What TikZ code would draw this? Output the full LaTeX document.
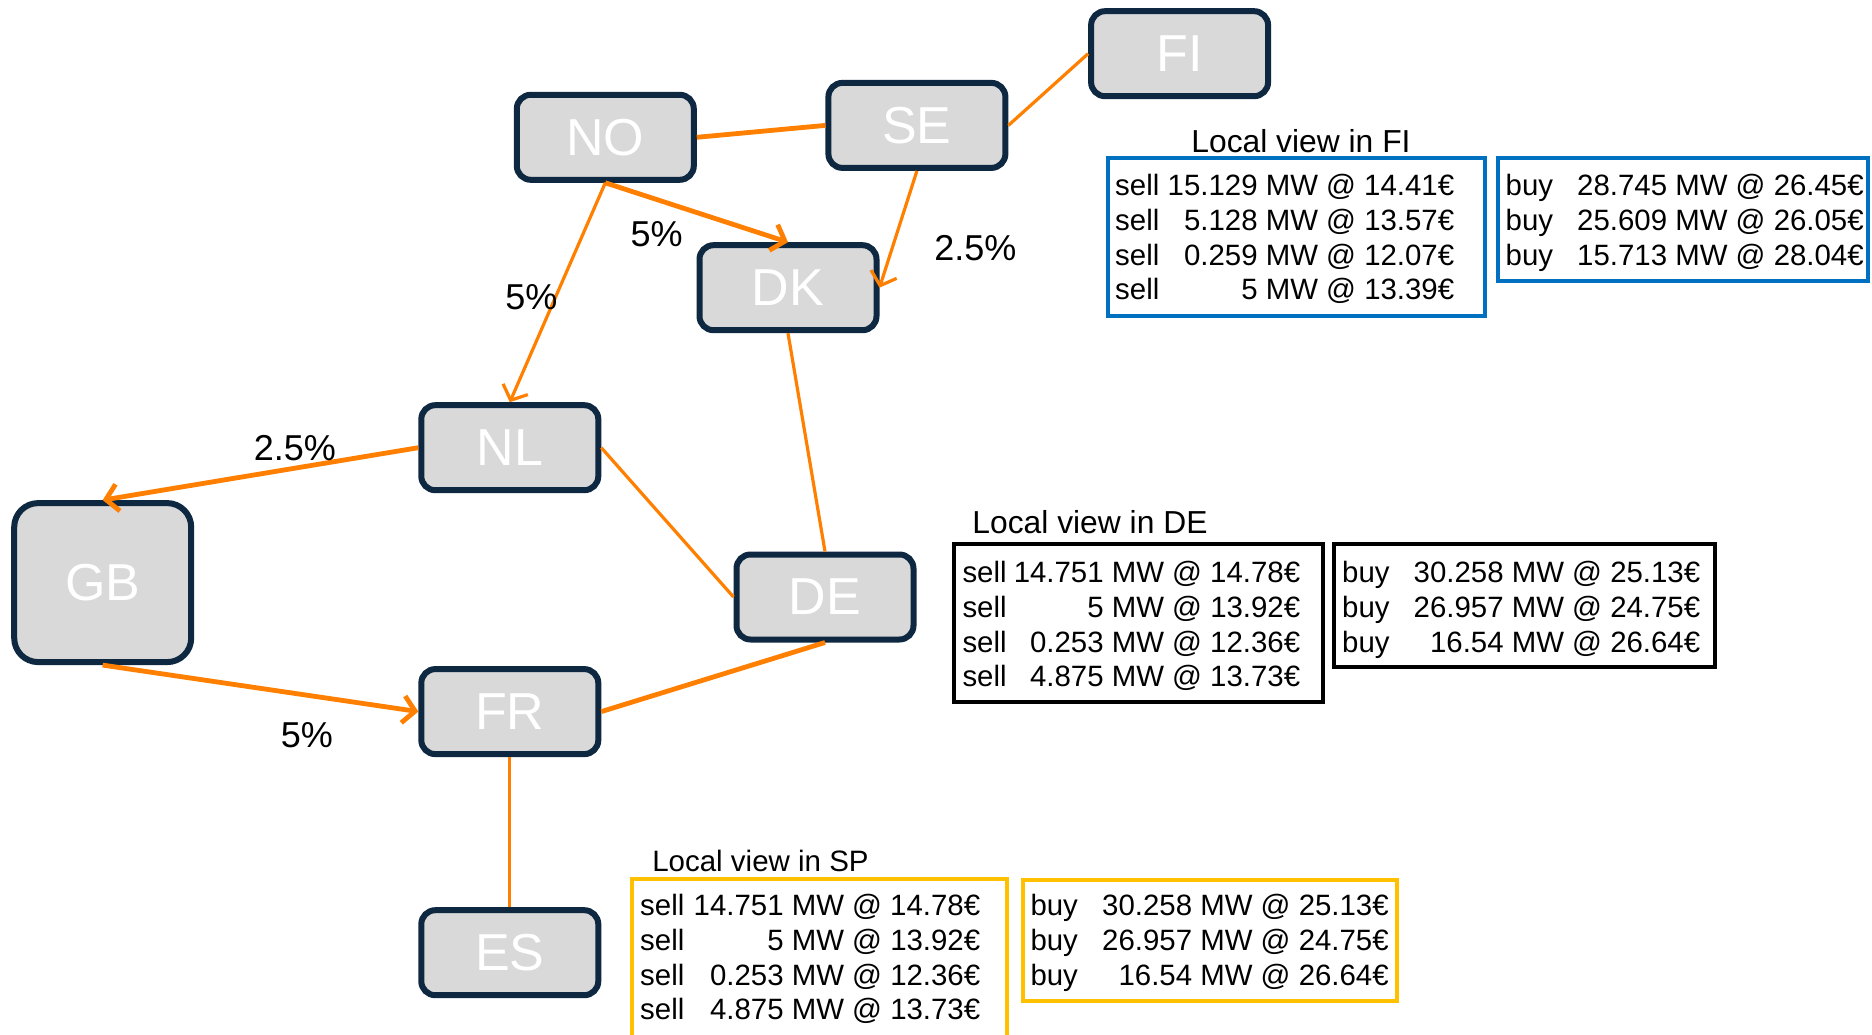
\documentclass[tikz,border=0pt]{standalone}
\usepackage{fontspec}
\setmainfont{Liberation Sans}
\usetikzlibrary{arrows.meta}
\definecolor{edgeor}{HTML}{FF7F00}
\definecolor{navy}{HTML}{0E2841}
\definecolor{boxgray}{HTML}{D9D9D9}
\definecolor{fiblue}{HTML}{0070C0}
\definecolor{spgold}{HTML}{FFC000}
\newcommand{\rowsfont}{\fontsize{29.4}{34.7}\selectfont}
\begin{document}
\begin{tikzpicture}[x=1pt,y=-1pt,
  country/.style={draw=navy, line width=6pt, fill=boxgray, rounded corners=14pt,
    minimum width=177pt, minimum height=85pt, inner sep=0pt, text=white,
    font=\fontsize{52}{62}\selectfont},
  link/.style={draw=edgeor, line width=3.2pt},
  thicklink/.style={draw=edgeor, line width=4.8pt},
  arr/.style={-{Straight Barb[length=12pt,width=27pt]}},
  pct/.style={inner sep=0pt, font=\fontsize{36}{43}\selectfont},
  viewbox/.style={line width=4pt, inner sep=0pt},
  rows/.style={inner sep=0pt, anchor=north west, font=\rowsfont},
  viewtitle/.style={inner sep=0pt, font=\fontsize{31.8}{38}\selectfont}
]
\useasboundingbox (0,0) rectangle (1872,1035);

% country nodes
\node[country] (FI) at (1179.6,53.7) {FI};
\node[country] (SE) at (916.9,125.4) {SE};
\node[country] (NO) at (605.3,137.3) {NO};
\node[country] (DK) at (788,287.7) {DK};
\node[country] (NL) at (509.8,447.7) {NL};
\node[country, minimum height=159pt, rounded corners=24pt] (GB) at (102.7,582.6) {GB};
\node[country] (DE) at (825,597) {DE};
\node[country] (FR) at (509.8,711.6) {FR};
\node[country] (ES) at (509.8,952.7) {ES};

% connectors
\draw[thicklink] (NO.east) -- (SE.west);
\draw[link] (SE.east) -- (FI.west);
\draw[thicklink, arr] (NO.south) -- (DK.north);
\draw[link, arr] (SE.south) -- (DK.east);
\draw[link, arr] (NO.south) -- (NL.north);
\draw[thicklink, arr] (NL.west) -- (GB.north);
\draw[link] (NL.east) -- (DE.west);
\draw[link] (DK.south) -- (DE.north);
\draw[thicklink, arr] (GB.south) -- (FR.west);
\draw[thicklink] (DE.south) -- (FR.east);
\draw[link] (FR.south) -- (ES.north);

% percentage labels
\node[pct] (p1) at (656.6,234) {5\%};
\node[pct] (p2) at (531.3,297.3) {5\%};
\node[pct] (p3) at (975.4,248.3) {2.5\%};
\node[pct] (p4) at (294.9,447.7) {2.5\%};
\node[pct] (p5) at (306.8,735.4) {5\%};

% Local view in FI
\node[viewtitle] (tFI) at (1301,141) {Local view in FI};
\node[viewbox, draw=fiblue, minimum width=377pt, minimum height=157pt] (fisellbox) at (1296,237) {};
\node[viewbox, draw=fiblue, minimum width=370pt, minimum height=122.5pt] (fibuybox) at (1683,219.7) {};
\node[rows] (fisell) at (1115,171.3) {\begin{tabular*}{339pt}{@{}l@{\extracolsep{\fill}}r@{}}
sell & 15.129 MW @ 14.41€\\
sell & 5.128 MW @ 13.57€\\
sell & 0.259 MW @ 12.07€\\
sell & 5 MW @ 13.39€
\end{tabular*}};
\node[rows] (fibuy) at (1505.5,171.3) {\begin{tabular*}{358pt}{@{}l@{\extracolsep{\fill}}r@{}}
buy & 28.745 MW @ 26.45€\\
buy & 25.609 MW @ 26.05€\\
buy & 15.713 MW @ 28.04€
\end{tabular*}};

% Local view in DE
\node[viewtitle] (tDE) at (1090,521.7) {Local view in DE};
\node[viewbox, draw=black, minimum width=369.7pt, minimum height=158.4pt] (desellbox) at (1138.4,623.2) {};
\node[viewbox, draw=black, minimum width=380.4pt, minimum height=122.6pt] (debuybox) at (1524.6,605.3) {};
\node[rows] (desell) at (962.3,558.2) {\begin{tabular*}{337.7pt}{@{}l@{\extracolsep{\fill}}r@{}}
sell & 14.751 MW @ 14.78€\\
sell & 5 MW @ 13.92€\\
sell & 0.253 MW @ 12.36€\\
sell & 4.875 MW @ 13.73€
\end{tabular*}};
\node[rows] (debuy) at (1342,558.2) {\begin{tabular*}{358pt}{@{}l@{\extracolsep{\fill}}r@{}}
buy & 30.258 MW @ 25.13€\\
buy & 26.957 MW @ 24.75€\\
buy & 16.54 MW @ 26.64€
\end{tabular*}};

% Local view in SP
\node[viewtitle, font=\fontsize{29.5}{35}\selectfont] (tSP) at (760.5,860.8) {Local view in SP};
\node[viewbox, draw=spgold, minimum width=374.4pt, minimum height=164pt] (spsellbox) at (819.6,961.3) {};
\node[viewbox, draw=spgold, minimum width=374.4pt, minimum height=121.4pt] (spbuybox) at (1210,940.2) {};
\node[rows] (spsell) at (640,891.3) {\begin{tabular*}{340pt}{@{}l@{\extracolsep{\fill}}r@{}}
sell & 14.751 MW @ 14.78€\\
sell & 5 MW @ 13.92€\\
sell & 0.253 MW @ 12.36€\\
sell & 4.875 MW @ 13.73€
\end{tabular*}};
\node[rows] (spbuy) at (1030.3,891.3) {\begin{tabular*}{358.2pt}{@{}l@{\extracolsep{\fill}}r@{}}
buy & 30.258 MW @ 25.13€\\
buy & 26.957 MW @ 24.75€\\
buy & 16.54 MW @ 26.64€
\end{tabular*}};
\end{tikzpicture}
\end{document}
